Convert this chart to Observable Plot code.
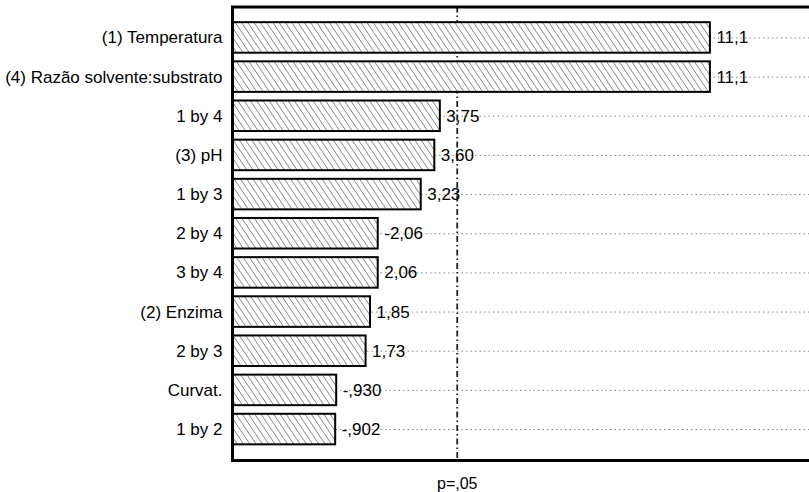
<!DOCTYPE html>
<html>
<head>
<meta charset="utf-8">
<script src="https://cdn.jsdelivr.net/npm/d3@7"></script>
<script src="https://cdn.jsdelivr.net/npm/@observablehq/plot@0.6"></script>
<style>
  html, body { margin: 0; padding: 0; background: #fff; overflow: hidden; }
  #chart svg { display: block; overflow: visible; max-width: none; }
</style>
</head>
<body>
<div id="chart"></div>
<script>
// ---- data ----
const terms = ["(1) Temperatura", "(4) Razão solvente:substrato", "1 by 4", "(3) pH", "1 by 3", "2 by 4", "3 by 4", "(2) Enzima", "2 by 3", "Curvat.", "1 by 2"];
const effects = [11.1, 11.1, 3.75, 3.60, 3.23, -2.06, 2.06, 1.85, 1.73, -0.930, -0.902];
const pCritical = 4.21;
const pLabel = "p=,05";

// ---- build ----
const data = terms.map((t, i) => ({term: t, effect: effects[i], abs: Math.abs(effects[i])}));
const xDomain = [-1.906, 13.96];
const fmt = v => d3.format(".3r")(v).replace(/\u2212/g, "-").replace(/^(-?)0\./, "$1.").replace(".", ",");

const chart = Plot.plot({
  width: 809,
  height: 492,
  marginLeft: 232,
  marginRight: -6,
  marginTop: 6.5,
  marginBottom: 32,
  style: {fontFamily: "'Liberation Sans', Arial, sans-serif", color: "black", background: "white", overflow: "visible"},
  x: {domain: xDomain, axis: null},
  y: {domain: terms, paddingInner: 0.22, paddingOuter: 0.40, round: false, axis: null},
  marks: [
    Plot.ruleY(data, {y: "term", stroke: "#888", strokeWidth: 1, strokeDasharray: "1.5,3"}),
    Plot.ruleX([pCritical], {stroke: "#222", strokeWidth: 1.8, strokeDasharray: "6,3,1.5,3"}),
    Plot.barX(data, {y: "term", x1: xDomain[0], x2: "abs", fill: "url(#hatch)", stroke: "black", strokeWidth: 2}),
    Plot.text(data, {y: "term", x: "abs", text: d => fmt(d.effect), dx: 6, textAnchor: "start", fontSize: 17, fill: "black"}),
    Plot.frame({stroke: "black", strokeWidth: 3}),
    Plot.axisY({tickSize: 0, tickPadding: 10, fontSize: 17, label: null}),
    Plot.axisX({ticks: [pCritical], tickFormat: () => pLabel, tickSize: 0, tickPadding: 17, fontSize: 16, label: null})
  ]
});

// hatch pattern
const ns = "http://www.w3.org/2000/svg";
const defs = document.createElementNS(ns, "defs");
defs.innerHTML = `<pattern id="hatch" patternUnits="userSpaceOnUse" width="5.2" height="10" patternTransform="rotate(-34)">
  <rect width="5.2" height="10" fill="white"/>
  <line x1="0" y1="0" x2="0" y2="10" stroke="#333" stroke-width="1"/>
</pattern>`;
chart.insertBefore(defs, chart.firstChild);

document.getElementById("chart").appendChild(chart);
</script>
</body>
</html>
